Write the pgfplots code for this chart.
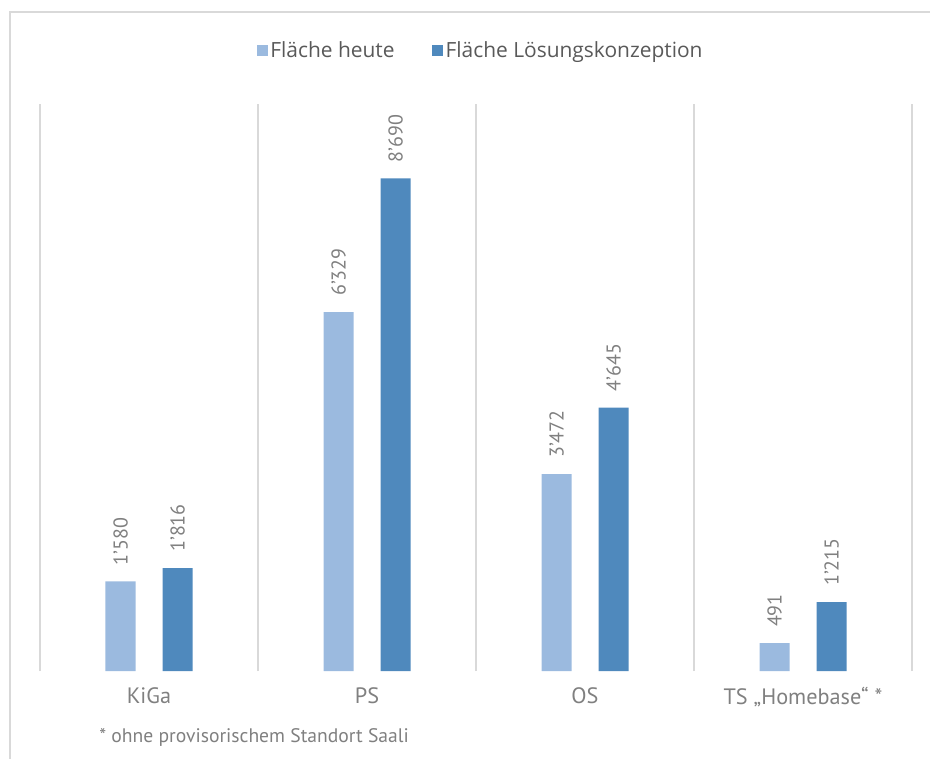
\documentclass[border=0pt]{standalone}
\usepackage{fontspec}
\setmainfont{Open Sans}
\newfontfamily\din{PT Sans}
\usepackage{pgfplots}
\pgfplotsset{compat=1.18}
\definecolor{lightbar}{RGB}{155,186,223}
\definecolor{darkbar}{RGB}{79,137,189}
\definecolor{gridc}{RGB}{217,217,217}
\definecolor{legtext}{RGB}{89,89,89}
\definecolor{labtext}{RGB}{128,128,128}
\begin{document}
\begin{tikzpicture}
\path[use as bounding box] (-30pt,-65.25pt) rectangle (667.5pt,503.25pt);
\draw[gridc, line width=1.5pt] (-22.5pt,-70pt) -- (-22.5pt,494.25pt) -- (670pt,494.25pt);
\begin{axis}[
  at={(0pt,0pt)}, anchor=south west,
  scale only axis,
  width=654pt, height=425.25pt,
  xmin=-0.5, xmax=3.5, ymin=0, ymax=10000,
  ybar=20.25pt, bar width=22.5pt,
  axis line style={draw=none},
  major tick length=0pt, minor tick length=0pt,
  ytick=\empty,
  xtick={0,1,2,3},
  xticklabels={KiGa, PS, OS, {TS „Homebase“ *}},
  minor xtick={-0.5,0.5,1.5,2.5,3.5},
  xminorgrids=true,
  minor grid style={gridc, line width=1.3pt},
  xticklabel style={anchor=north, inner sep=0pt, yshift=-12pt, font=\din\fontsize{16.7}{19}\selectfont, text=labtext},
  point meta=explicit symbolic,
  nodes near coords,
  every node near coord/.append style={rotate=90, anchor=west, inner sep=0pt, inner xsep=12pt, font=\din\fontsize{15}{17}\selectfont, text=labtext},
  legend columns=-1,
  legend style={draw=none, fill=none, at={(0.5057,1.095)}, anchor=center, font=\fontsize{15.7}{18}\selectfont, text=legtext, /tikz/every even column/.append style={column sep=26pt}},
  legend image code/.code={\fill[#1] (0pt,-4.1pt) rectangle (8.2pt,4.1pt);},
  clip=false,
]
\addplot[fill=lightbar, draw=none] coordinates {(0,1580)[1’580] (1,6329)[6’329] (2,3472)[3’472] (3,491)[491]};
\addplot[fill=darkbar, draw=none] coordinates {(0,1816)[1’816] (1,8690)[8’690] (2,4645)[4’645] (3,1215)[1’215]};
\legend{Fläche heute, Fläche Lösungskonzeption}
\end{axis}
\node[anchor=west, inner sep=0pt, font=\din\fontsize{14.7}{17}\selectfont, text=labtext] at (44.25pt,-49.5pt) {* ohne provisorischem Standort Saali};
\end{tikzpicture}
\end{document}
